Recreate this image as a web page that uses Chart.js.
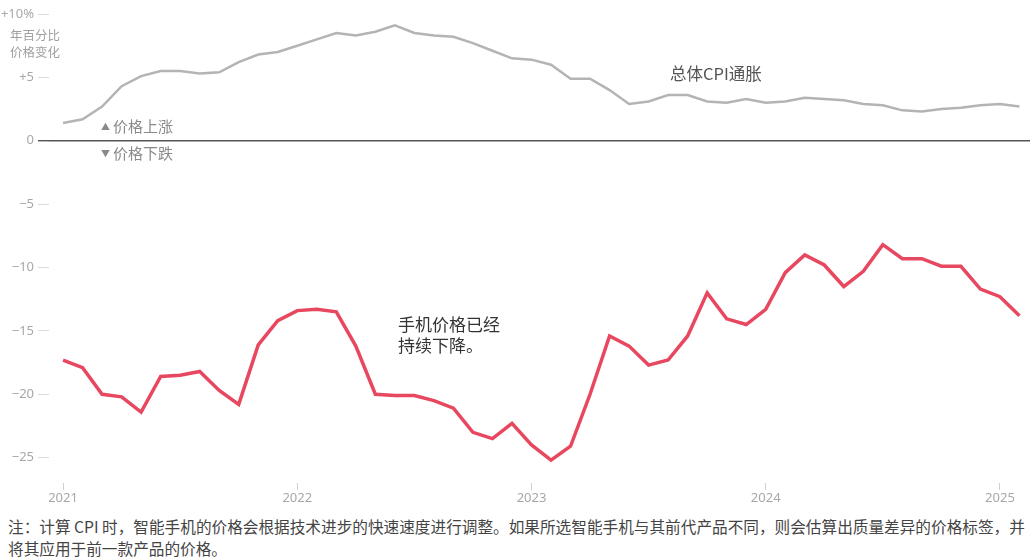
<!DOCTYPE html>
<html lang="zh">
<head>
    <meta charset="UTF-8">
    <title>智能手机价格与CPI</title>
    <script src="https://cdn.jsdelivr.net/npm/chart.js"></script>
    <style>
        body { margin: 0; background: #fff; font-family: "Noto Sans CJK SC", "Noto Sans", sans-serif; }
        #wrap { position: relative; width: 1035px; height: 560px; }
        #chartBox { position: absolute; left: 0; top: 0; width: 1035px; height: 505px; }
        .note { position: absolute; white-space: nowrap; }
        #unit { left: 10px; top: 26px; font-size: 12.5px; line-height: 17px; color: #a0a0a0; }
        .dir { left: 101px; font-size: 15px; color: #8a8a8a; line-height: 18px; }
        .dir span { font-size: 9px; position: relative; top: -2px; margin-right: 3px; }
        #cpiNote { left: 670px; top: 61px; font-size: 16.5px; color: #555; }
        #phoneNote { left: 398px; top: 313px; font-size: 17px; line-height: 21px; color: #333; }
        #footnote { left: 8px; top: 516px; font-size: 15.65px; line-height: 22px; color: #444; }
    </style>
</head>
<body>
<div id="wrap">
    <div id="chartBox"><canvas id="phoneChart"></canvas></div>
    <div class="note" id="unit">年百分比<br>价格变化</div>
    <div class="note dir" style="top:117px"><span>▲</span>价格上涨</div>
    <div class="note dir" style="top:144px"><span>▼</span>价格下跌</div>
    <div class="note" id="cpiNote">总体CPI通胀</div>
    <div class="note" id="phoneNote">手机价格已经<br>持续下降。</div>
    <div class="note" id="footnote">注：计算 CPI 时，智能手机的价格会根据技术进步的快速速度进行调整。如果所选智能手机与其前代产品不同，则会估算出质量差异的价格标签，并<br>将其应用于前一款产品的价格。</div>
</div>

<script>
    // monthly, Jan 2021 - Feb 2025
    const months = [
        '2021-01','2021-02','2021-03','2021-04','2021-05','2021-06','2021-07','2021-08','2021-09','2021-10','2021-11','2021-12',
        '2022-01','2022-02','2022-03','2022-04','2022-05','2022-06','2022-07','2022-08','2022-09','2022-10','2022-11','2022-12',
        '2023-01','2023-02','2023-03','2023-04','2023-05','2023-06','2023-07','2023-08','2023-09','2023-10','2023-11','2023-12',
        '2024-01','2024-02','2024-03','2024-04','2024-05','2024-06','2024-07','2024-08','2024-09','2024-10','2024-11','2024-12',
        '2025-01','2025-02'
    ];

    // headline CPI, % change year over year
    const cpiValues = [
        1.4, 1.7, 2.7, 4.3, 5.1, 5.5, 5.5, 5.3, 5.4, 6.2, 6.8, 7.0,
        7.5, 8.0, 8.5, 8.3, 8.6, 9.1, 8.5, 8.3, 8.2, 7.7, 7.1, 6.5,
        6.4, 6.0, 4.9, 4.9, 4.0, 2.9, 3.1, 3.6, 3.6, 3.1, 3.0, 3.3,
        3.0, 3.1, 3.4, 3.3, 3.2, 2.9, 2.8, 2.4, 2.3, 2.5, 2.6, 2.8,
        2.9, 2.7
    ];

    // smartphone prices, % change year over year
    const phoneValues = [
        -17.3, -17.9, -20.0, -20.2, -21.4, -18.6, -18.5, -18.2, -19.7, -20.8, -16.1, -14.2,
        -13.4, -13.3, -13.5, -16.2, -20.0, -20.1, -20.1, -20.5, -21.1, -23.0, -23.5, -22.3,
        -24.0, -25.2, -24.1, -20.0, -15.4, -16.2, -17.7, -17.3, -15.4, -12.0, -14.05, -14.5,
        -13.3, -10.4, -9.0, -9.8, -11.5, -10.3, -8.2, -9.3, -9.3, -9.9, -9.9, -11.7,
        -12.3, -13.8
    ];

    const yearTickPos = [0, 12, 24, 36, 48];
    const yearLabels = ['2021', '2022', '2023', '2024', '2025'];
    const yTickValues = [10, 5, 0, -5, -10, -15, -20, -25];
    const yTickLabels = ['+10%', '+5', '0', '\u22125', '\u221210', '\u221215', '\u221220', '\u221225'];

    const toPoints = vals => vals.map((v, i) => ({ x: i, y: v }));

    const ctx = document.getElementById('phoneChart').getContext('2d');
    new Chart(ctx, {
        type: 'line',
        data: {
            datasets: [
                {
                    label: '总体CPI通胀',
                    data: toPoints(cpiValues),
                    borderColor: '#b4b4b4',
                    borderWidth: 2.5,
                    pointRadius: 0,
                    tension: 0
                },
                {
                    label: '手机价格',
                    data: toPoints(phoneValues),
                    borderColor: '#e8485f',
                    borderWidth: 3.5,
                    pointRadius: 0,
                    tension: 0
                }
            ]
        },
        options: {
            responsive: true,
            maintainAspectRatio: false,
            animation: false,
            layout: { padding: { top: 14, right: 5, left: 0, bottom: 0 } },
            plugins: { legend: { display: false }, tooltip: { enabled: false } },
            scales: {
                x: {
                    type: 'linear',
                    min: -0.72,
                    max: 49.54,
                    afterBuildTicks: s => { s.ticks = yearTickPos.map(v => ({ value: v })); },
                    afterFit: s => { s.height = 22; },
                    border: { display: false },
                    grid: { drawOnChartArea: false, drawTicks: true, tickLength: 7, tickColor: '#d0d0d0' },
                    ticks: {
                        color: '#a8a8a8',
                        font: { family: 'Noto Sans', size: 13 },
                        padding: 0,
                        maxRotation: 0,
                        callback: v => yearLabels[yearTickPos.indexOf(v)]
                    }
                },
                y: {
                    min: -27,
                    max: 10,
                    afterBuildTicks: s => { s.ticks = yTickValues.map(v => ({ value: v })); },
                    afterFit: s => { s.width = 49; },
                    border: { display: false },
                    grid: {
                        drawTicks: true,
                        tickLength: 11,
                        lineWidth: c => (c.tick && c.tick.value === 0 ? 1.4 : 1),
                        color: c => (c.tick && c.tick.value === 0 ? '#555' : 'rgba(0,0,0,0)'),
                        tickColor: c => (c.tick && c.tick.value === 0 ? '#555' : '#dcdcdc')
                    },
                    ticks: {
                        color: '#a8a8a8',
                        font: { family: 'Noto Sans', size: 13 },
                        padding: 4,
                        callback: v => yTickLabels[yTickValues.indexOf(v)]
                    }
                }
            }
        }
    });
</script>
</body>
</html>
